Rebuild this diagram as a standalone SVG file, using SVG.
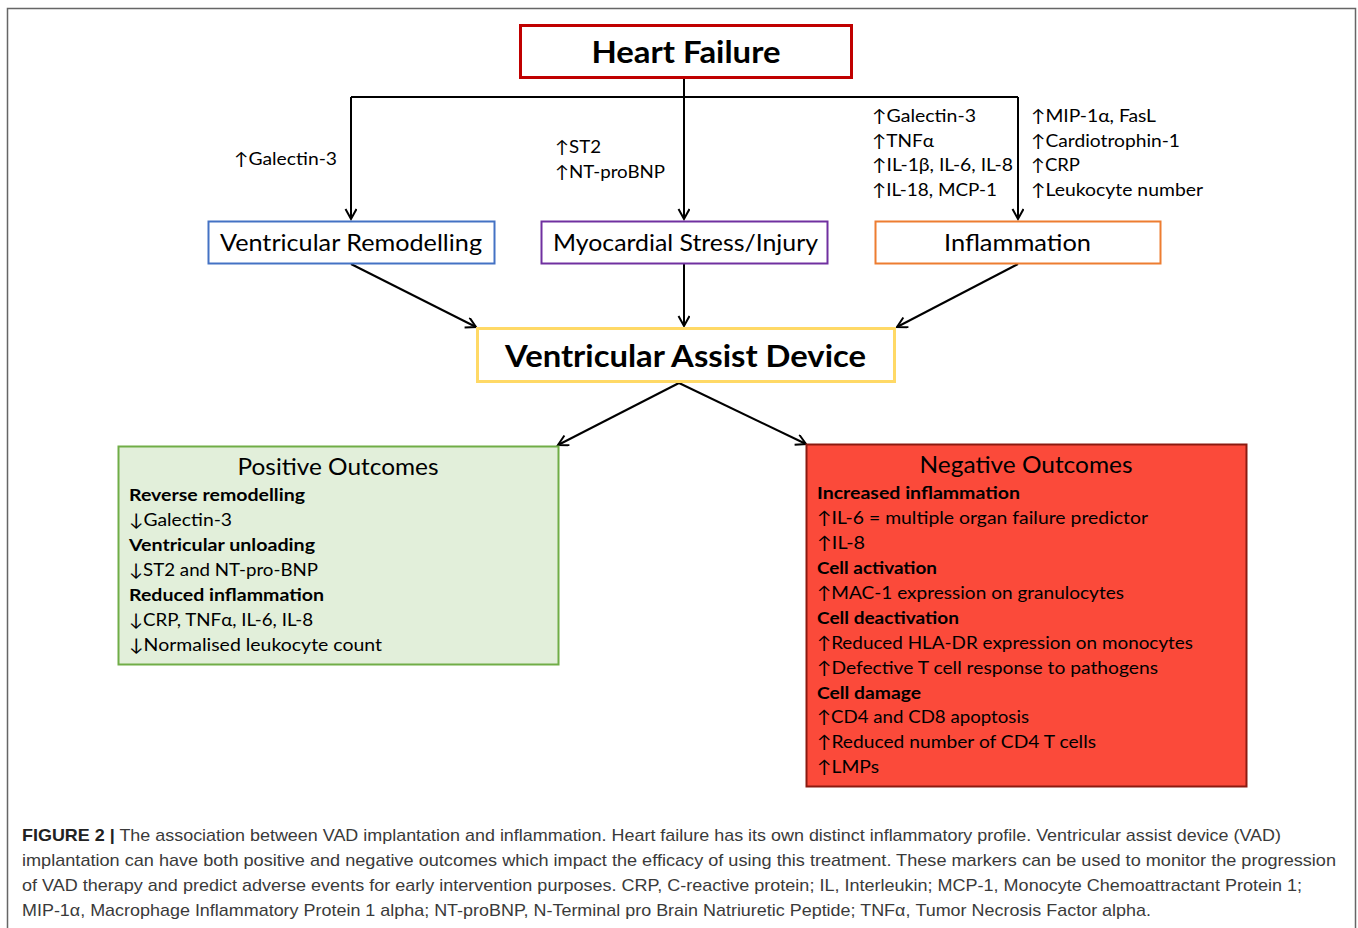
<svg xmlns="http://www.w3.org/2000/svg" width="1358" height="928" viewBox="0 0 1358 928">
<style>
.t{font-family:Lato,"Open Sans","DejaVu Sans",sans-serif;fill:#000}
.b{font-weight:bold}
.node{font-size:23px}
.big{font-size:30px;font-weight:bold}
.lab{font-size:17px}
.body{font-size:17.5px}
.cap{font-family:"Liberation Sans",Arial,sans-serif;font-size:17px;fill:#3a3a3a}
.conn{stroke:#000;stroke-width:2;fill:none}
</style>
<defs>
<marker id="ah" markerUnits="userSpaceOnUse" markerWidth="14" markerHeight="14" refX="11" refY="6" orient="auto">
<path d="M1,0.5 L11,6 L1,11.5" fill="none" stroke="#000" stroke-width="2"/>
</marker>
</defs>
<rect width="1358" height="928" fill="#fff"/>
<path d="M7.5,928 V8.5 H1355.5 V928" fill="none" stroke="#666" stroke-width="1.5"/>

<g id="connectors">
<path class="conn" d="M684,78 V219" marker-end="url(#ah)"/>
<path class="conn" d="M351,97 H1018"/>
<path class="conn" d="M351,97 V219" marker-end="url(#ah)"/>
<path class="conn" d="M1018,97 V219" marker-end="url(#ah)"/>
<path class="conn" d="M351,264 L476,327" marker-end="url(#ah)"/>
<path class="conn" d="M684,264 V326" marker-end="url(#ah)"/>
<path class="conn" d="M1018,264 L897,327" marker-end="url(#ah)"/>
<path class="conn" d="M679,383 L558,445" marker-end="url(#ah)"/>
<path class="conn" d="M679,383 L806,444" marker-end="url(#ah)"/>
</g>

<g id="heart-failure">
<rect x="520.5" y="25.5" width="331" height="52" fill="#fff" stroke="#c00000" stroke-width="3"/>
<text class="t big" x="686" y="63" text-anchor="middle" textLength="189" lengthAdjust="spacingAndGlyphs">Heart Failure</text>
</g>

<g id="ventricular-remodelling">
<rect x="208.5" y="221.5" width="286" height="42" fill="#fff" stroke="#4472c4" stroke-width="2"/>
<text class="t node" x="351" y="251" text-anchor="middle" textLength="262" lengthAdjust="spacingAndGlyphs">Ventricular Remodelling</text>
</g>
<text class="t lab" x="234" y="165" textLength="103" lengthAdjust="spacingAndGlyphs">↑Galectin-3</text>

<g id="myocardial-stress">
<rect x="541.5" y="221.5" width="286" height="42" fill="#fff" stroke="#7030a0" stroke-width="2"/>
<text class="t node" x="685.5" y="251" text-anchor="middle" textLength="265" lengthAdjust="spacingAndGlyphs">Myocardial Stress/Injury</text>
</g>
<text class="t lab" x="555" y="153" textLength="46" lengthAdjust="spacingAndGlyphs">↑ST2</text>
<text class="t lab" x="555" y="178" textLength="110" lengthAdjust="spacingAndGlyphs">↑NT-proBNP</text>

<g id="inflammation">
<rect x="875.5" y="221.5" width="285" height="42" fill="#fff" stroke="#ed7d31" stroke-width="2"/>
<text class="t node" x="1017.5" y="251" text-anchor="middle" textLength="147" lengthAdjust="spacingAndGlyphs">Inflammation</text>
</g>
<text class="t lab" x="872" y="122" textLength="104" lengthAdjust="spacingAndGlyphs">↑Galectin-3</text>
<text class="t lab" x="872" y="147" textLength="62" lengthAdjust="spacingAndGlyphs">↑TNFα</text>
<text class="t lab" x="872" y="171" textLength="141" lengthAdjust="spacingAndGlyphs">↑IL-1β, IL-6, IL-8</text>
<text class="t lab" x="872" y="196" textLength="125" lengthAdjust="spacingAndGlyphs">↑IL-18, MCP-1</text>
<text class="t lab" x="1031" y="122" textLength="125" lengthAdjust="spacingAndGlyphs">↑MIP-1α, FasL</text>
<text class="t lab" x="1031" y="147" textLength="149" lengthAdjust="spacingAndGlyphs">↑Cardiotrophin-1</text>
<text class="t lab" x="1031" y="171" textLength="49" lengthAdjust="spacingAndGlyphs">↑CRP</text>
<text class="t lab" x="1031" y="196" textLength="172" lengthAdjust="spacingAndGlyphs">↑Leukocyte number</text>

<g id="vad">
<rect x="477.5" y="328.5" width="417" height="53" fill="#fff" stroke="#ffd966" stroke-width="3"/>
<text class="t big" x="685.5" y="367" text-anchor="middle" textLength="361" lengthAdjust="spacingAndGlyphs">Ventricular Assist Device</text>
</g>

<g id="positive-outcomes">
<rect x="118.5" y="446.5" width="440" height="218" fill="#e2efda" stroke="#70ad47" stroke-width="2"/>
<text class="t node" x="338" y="475" text-anchor="middle" textLength="201" lengthAdjust="spacingAndGlyphs">Positive Outcomes</text>
<text class="t body b" x="129" y="501" textLength="176" lengthAdjust="spacingAndGlyphs">Reverse remodelling</text>
<text class="t body" x="129" y="526" textLength="103" lengthAdjust="spacingAndGlyphs">↓Galectin-3</text>
<text class="t body b" x="129" y="551" textLength="186" lengthAdjust="spacingAndGlyphs">Ventricular unloading</text>
<text class="t body" x="129" y="576" textLength="189" lengthAdjust="spacingAndGlyphs">↓ST2 and NT-pro-BNP</text>
<text class="t body b" x="129" y="601" textLength="195" lengthAdjust="spacingAndGlyphs">Reduced inflammation</text>
<text class="t body" x="129" y="626" textLength="184" lengthAdjust="spacingAndGlyphs">↓CRP, TNFα, IL-6, IL-8</text>
<text class="t body" x="129" y="651" textLength="253" lengthAdjust="spacingAndGlyphs">↓Normalised leukocyte count</text>
</g>

<g id="negative-outcomes">
<rect x="806.5" y="444.5" width="440" height="342" fill="#fb4a3a" stroke="#8b1a10" stroke-width="2"/>
<text class="t node" x="1026" y="473" text-anchor="middle" textLength="213" lengthAdjust="spacingAndGlyphs">Negative Outcomes</text>
<text class="t body b" x="817" y="499" textLength="203" lengthAdjust="spacingAndGlyphs">Increased inflammation</text>
<text class="t body" x="817" y="524" textLength="331" lengthAdjust="spacingAndGlyphs">↑IL-6 = multiple organ failure predictor</text>
<text class="t body" x="817" y="549" textLength="48" lengthAdjust="spacingAndGlyphs">↑IL-8</text>
<text class="t body b" x="817" y="574" textLength="120" lengthAdjust="spacingAndGlyphs">Cell activation</text>
<text class="t body" x="817" y="599" textLength="307" lengthAdjust="spacingAndGlyphs">↑MAC-1 expression on granulocytes</text>
<text class="t body b" x="817" y="624" textLength="142" lengthAdjust="spacingAndGlyphs">Cell deactivation</text>
<text class="t body" x="817" y="649" textLength="376" lengthAdjust="spacingAndGlyphs">↑Reduced HLA-DR expression on monocytes</text>
<text class="t body" x="817" y="674" textLength="341" lengthAdjust="spacingAndGlyphs">↑Defective T cell response to pathogens</text>
<text class="t body b" x="817" y="699" textLength="104" lengthAdjust="spacingAndGlyphs">Cell damage</text>
<text class="t body" x="817" y="723" textLength="212" lengthAdjust="spacingAndGlyphs">↑CD4 and CD8 apoptosis</text>
<text class="t body" x="817" y="748" textLength="279" lengthAdjust="spacingAndGlyphs">↑Reduced number of CD4 T cells</text>
<text class="t body" x="817" y="773" textLength="62" lengthAdjust="spacingAndGlyphs">↑LMPs</text>
</g>

<g id="caption">
<text class="cap" x="22" y="841" textLength="1259" lengthAdjust="spacingAndGlyphs"><tspan font-weight="bold" fill="#222">FIGURE 2 |</tspan> The association between VAD implantation and inflammation. Heart failure has its own distinct inflammatory profile. Ventricular assist device (VAD)</text>
<text class="cap" x="22" y="866" textLength="1314" lengthAdjust="spacingAndGlyphs">implantation can have both positive and negative outcomes which impact the efficacy of using this treatment. These markers can be used to monitor the progression</text>
<text class="cap" x="22" y="891" textLength="1280" lengthAdjust="spacingAndGlyphs">of VAD therapy and predict adverse events for early intervention purposes. CRP, C-reactive protein; IL, Interleukin; MCP-1, Monocyte Chemoattractant Protein 1;</text>
<text class="cap" x="22" y="916" textLength="1129" lengthAdjust="spacingAndGlyphs">MIP-1α, Macrophage Inflammatory Protein 1 alpha; NT-proBNP, N-Terminal pro Brain Natriuretic Peptide; TNFα, Tumor Necrosis Factor alpha.</text>
</g>
</svg>
